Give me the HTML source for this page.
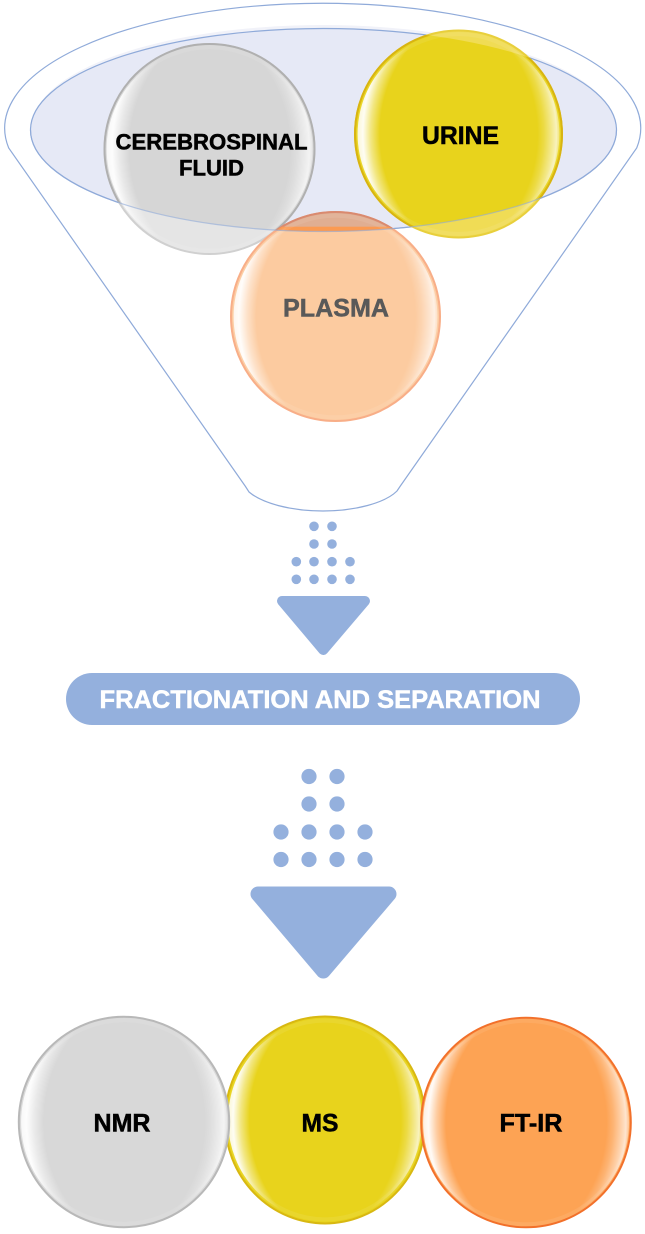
<!DOCTYPE html>
<html>
<head>
<meta charset="utf-8">
<style>
html,body{margin:0;padding:0;background:#fff}
svg{display:block;filter:blur(.35px)}
text{font-family:"Liberation Sans",Arial,sans-serif;font-weight:bold;text-anchor:middle}
</style>
</head>
<body>
<svg width="645" height="1234" viewBox="0 0 645 1234" xmlns="http://www.w3.org/2000/svg">
<defs>
<radialGradient id="gl" gradientUnits="userSpaceOnUse" cx="30" cy="0" r="128" gradientTransform="scale(1 1.15)">
<stop offset=".83" stop-color="#fff" stop-opacity="0"/>
<stop offset=".90" stop-color="#fff" stop-opacity=".45"/>
<stop offset=".96" stop-color="#fff" stop-opacity=".95"/>
<stop offset="1" stop-color="#fff" stop-opacity=".8"/>
</radialGradient>
<radialGradient id="gr" gradientUnits="userSpaceOnUse" cx="-30" cy="0" r="127" gradientTransform="scale(1 1.15)">
<stop offset=".84" stop-color="#fff" stop-opacity="0"/>
<stop offset=".89" stop-color="#fff" stop-opacity=".18"/>
<stop offset=".95" stop-color="#fff" stop-opacity=".5"/>
<stop offset=".985" stop-color="#fff" stop-opacity=".7"/>
<stop offset="1" stop-color="#fff" stop-opacity=".45"/>
</radialGradient>
<g id="gloss">
<circle r="97" fill="none" stroke="#fff" stroke-opacity=".08" stroke-width="4"/>
<circle r="98" fill="url(#gl)"/>
<circle r="98" fill="url(#gr)"/>
</g>
<clipPath id="inner"><ellipse cx="323.500" cy="130" rx="293" ry="101.500"/></clipPath>
<clipPath id="plasmaC"><circle cx="335.500" cy="316.500" r="104.500"/></clipPath>
<clipPath id="lower"><rect x="0" y="130" width="645" height="110"/></clipPath>
</defs>

<!-- funnel -->
<ellipse cx="323" cy="127" rx="291" ry="102" fill="#f1f2f9"/>
<ellipse cx="323.500" cy="130" rx="293" ry="101.500" fill="#e6e9f6" stroke="#8faad9" stroke-width="1.200"/>
<path d="M8.700 148 A318 125 0 1 1 636.700 148 L400 486.500 L397 491 C385 503 355 511 323 511 C290 511 262 503 249 492 L245.500 486.500 Z" fill="none" stroke="#8faad9" stroke-width="1.200"/>

<!-- CSF -->
<circle cx="209.500" cy="149" r="105" fill="#e5e5e5" stroke="#d0d0d0" stroke-width="2"/>
<circle cx="209.500" cy="149" r="105" fill="#d6d6d6" stroke="#b0b0b0" stroke-width="2" clip-path="url(#inner)"/>
<use href="#gloss" transform="translate(209.500 149) scale(1.050)"/>

<!-- URINE -->
<circle cx="458.500" cy="134" r="103.500" fill="#f0dc55" stroke="#e8cf3c" stroke-width="2"/>
<circle cx="458.500" cy="134" r="103.500" fill="#e8d31c" stroke="#d8b412" stroke-width="2" clip-path="url(#inner)"/>
<use href="#gloss" transform="translate(458.500 134) scale(1.030)"/>

<!-- PLASMA -->
<circle cx="335.500" cy="316.500" r="104.500" fill="#fccba0" stroke="#f8ae88" stroke-width="2"/>
<circle cx="335.500" cy="316.500" r="104.500" fill="#e0ae92" stroke="#d98a70" stroke-width="2" clip-path="url(#inner)"/>
<g clip-path="url(#inner)"><rect x="270" y="226.700" width="130" height="6" fill="#fb9a52" clip-path="url(#plasmaC)"/></g>
<use href="#gloss" transform="translate(335.500 316.500) scale(1.040)"/>

<ellipse cx="323.500" cy="130" rx="293" ry="101.500" fill="none" stroke="#8faad9" stroke-width="1.200" stroke-opacity=".6" clip-path="url(#lower)"/>

<text x="211.500" y="149.500" font-size="22" fill="#000" stroke="#000" stroke-width=".5" textLength="192" lengthAdjust="spacingAndGlyphs">CEREBROSPINAL</text>
<text x="211.500" y="175.500" font-size="22" fill="#000" stroke="#000" stroke-width=".5" textLength="65" lengthAdjust="spacingAndGlyphs">FLUID</text>
<text x="460.500" y="144" font-size="24.700" fill="#000" stroke="#000" stroke-width=".5" textLength="77" lengthAdjust="spacingAndGlyphs">URINE</text>
<text x="336" y="316.700" font-size="25" fill="#595959" stroke="#595959" stroke-width=".5" textLength="106" lengthAdjust="spacingAndGlyphs">PLASMA</text>

<!-- dots and arrows -->
<g fill="#94b0dd">
<circle cx="314" cy="526.300" r="4.800"/><circle cx="332" cy="526.300" r="4.800"/>
<circle cx="314" cy="544" r="4.800"/><circle cx="332" cy="544" r="4.800"/>
<circle cx="296.300" cy="561.700" r="4.800"/><circle cx="314" cy="561.700" r="4.800"/><circle cx="332" cy="561.700" r="4.800"/><circle cx="350" cy="561.700" r="4.800"/>
<circle cx="296.300" cy="579.300" r="4.800"/><circle cx="314" cy="579.300" r="4.800"/><circle cx="332" cy="579.300" r="4.800"/><circle cx="350" cy="579.300" r="4.800"/>
<polygon points="282,601 365,601 323.300,650" stroke="#94b0dd" stroke-width="10" stroke-linejoin="round"/>

<rect x="66" y="673" width="514" height="52" rx="26" ry="26"/>

<circle cx="309" cy="776.500" r="7.600"/><circle cx="337" cy="776.500" r="7.600"/>
<circle cx="309" cy="804" r="7.600"/><circle cx="337" cy="804" r="7.600"/>
<circle cx="281" cy="832" r="7.600"/><circle cx="309" cy="832" r="7.600"/><circle cx="337" cy="832" r="7.600"/><circle cx="365" cy="832" r="7.600"/>
<circle cx="281" cy="859.500" r="7.600"/><circle cx="309" cy="859.500" r="7.600"/><circle cx="337" cy="859.500" r="7.600"/><circle cx="365" cy="859.500" r="7.600"/>
<polygon points="258,894 389,894 323.300,971" stroke="#94b0dd" stroke-width="15" stroke-linejoin="round"/>
</g>
<text x="320" y="708" font-size="25" fill="#fff" stroke="#fff" stroke-width=".5" textLength="441" lengthAdjust="spacingAndGlyphs">FRACTIONATION AND SEPARATION</text>

<!-- bottom -->
<ellipse cx="325" cy="1120" rx="100" ry="103.500" fill="#e8d31c" stroke="#d8b812" stroke-width="2"/>
<use href="#gloss" transform="translate(325 1120) scale(.990 1.025)"/>

<circle cx="124" cy="1122" r="105.200" fill="#d8d8d8" stroke="#b8b8b8" stroke-width="2"/>
<use href="#gloss" transform="translate(124 1122) scale(1.050)"/>

<circle cx="526" cy="1122.500" r="104.800" fill="#fda354" stroke="#f2702a" stroke-width="2"/>
<use href="#gloss" transform="translate(526 1122.500) scale(1.050)"/>

<text x="122" y="1131.700" font-size="24.700" fill="#000" stroke="#000" stroke-width=".5" textLength="57" lengthAdjust="spacingAndGlyphs">NMR</text>
<text x="320" y="1131.700" font-size="24.700" fill="#000" stroke="#000" stroke-width=".5" textLength="37" lengthAdjust="spacingAndGlyphs">MS</text>
<text x="531" y="1131.700" font-size="24.700" fill="#000" stroke="#000" stroke-width=".5" textLength="63" lengthAdjust="spacingAndGlyphs">FT-IR</text>
</svg>
</body>
</html>
